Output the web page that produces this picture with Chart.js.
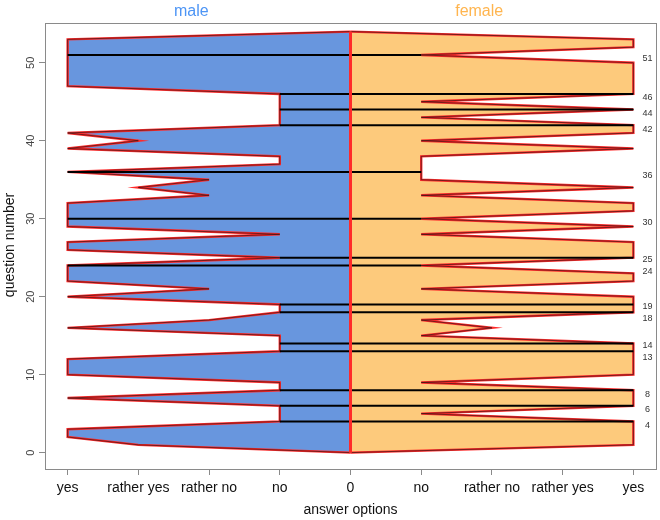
<!DOCTYPE html>
<html>
<head>
<meta charset="utf-8">
<script src="https://cdn.jsdelivr.net/npm/chart.js@4.4.1/dist/chart.umd.min.js"></script>
<style>
  html, body { margin: 0; padding: 0; background: #fff; }
</style>
</head>
<body>
<canvas id="chart" width="660" height="520"></canvas>
<script>
// answers per question (1..53): 1 = no, 2 = rather no, 3 = rather yes, 4 = yes
const questions = Array.from({ length: 53 }, (_, i) => i + 1);
const maleAnswers = [3, 4, 4, 1, 1, 1, 4, 1, 1, 4, 4, 4, 1, 1, 1, 4, 2, 1, 1, 4,
  2, 4, 4, 4, 1, 4, 4, 1, 4, 4, 4, 4, 2, 3, 2, 4, 1, 1, 4, 3,
  4, 1, 1, 1, 1, 1, 4, 4, 4, 4, 4, 4, 4];
const femaleAnswers = [4, 4, 4, 4, 1, 4, 4, 4, 1, 4, 4, 4, 4, 4, 1, 2, 1, 4, 4, 4,
  1, 4, 4, 1, 4, 4, 4, 1, 4, 1, 4, 4, 1, 4, 1, 1, 1, 1, 4, 1,
  4, 4, 1, 4, 1, 4, 4, 4, 4, 4, 1, 4, 4];
// questions with a big disagreement, marked by a black line + label
const markedQuestions = [4, 6, 8, 13, 14, 18, 19, 24, 25, 30, 36, 42, 44, 46, 51];

const xTickValues = [-4, -3, -2, -1, 0, 1, 2, 3, 4];
const xTickLabels = ['yes', 'rather yes', 'rather no', 'no', '0', 'no', 'rather no', 'rather yes', 'yes'];
const yTickValues = [0, 10, 20, 30, 40, 50];

const FONT = '"Liberation Sans", Arial, Helvetica, sans-serif';
const BLUE = '#6896de';
const ORANGE = '#fdca7c';
const RED = '#ff2a2a';
const EDGE_DARK = 'rgba(50,20,20,0.85)';

const topQ = questions.length + 1;

function polygon(values, sign) {
  const pts = [{ x: 0, y: 0 }];
  questions.forEach((q, i) => pts.push({ x: sign * values[i], y: q }));
  pts.push({ x: 0, y: topQ });
  return pts;
}

const malePts = polygon(maleAnswers, -1);
const femalePts = polygon(femaleAnswers, 1);

// listed bottom to top; reversed below since chart.js paints index 0 last
const layers = [
  { data: malePts, backgroundColor: BLUE, borderColor: RED, borderWidth: 2.4, fill: 'shape' },
  { data: malePts, borderColor: EDGE_DARK, borderWidth: 0.8, fill: false },
  { data: femalePts, backgroundColor: ORANGE, borderColor: RED, borderWidth: 2.4, fill: 'shape' },
  { data: femalePts, borderColor: EDGE_DARK, borderWidth: 0.8, fill: false },
];

markedQuestions.forEach((q) => {
  layers.push({
    data: [{ x: -maleAnswers[q - 1], y: q }, { x: femaleAnswers[q - 1], y: q }],
    borderColor: '#000',
    borderWidth: 2,
    fill: false,
  });
});

// red middle line
layers.push({
  data: [{ x: 0, y: 0 }, { x: 0, y: topQ }],
  borderColor: RED,
  borderWidth: 3,
  fill: false,
});

const datasets = layers.slice().reverse();

const decor = {
  id: 'decor',
  afterDraw(chart) {
    const { ctx, chartArea: a, scales: { x, y } } = chart;
    ctx.save();

    // box
    ctx.strokeStyle = '#8a8a8a';
    ctx.lineWidth = 1;
    ctx.strokeRect(a.left + 0.5, a.top + 0.5, a.right - a.left, a.bottom - a.top);

    // rotated y tick labels
    ctx.fillStyle = '#444';
    ctx.font = '11px ' + FONT;
    ctx.textAlign = 'center';
    ctx.textBaseline = 'middle';
    yTickValues.forEach((v) => {
      ctx.save();
      ctx.translate(31, y.getPixelForValue(v));
      ctx.rotate(-Math.PI / 2);
      ctx.fillText(String(v), 0, 0);
      ctx.restore();
    });

    // y title
    ctx.fillStyle = '#111';
    ctx.font = '14px ' + FONT;
    ctx.save();
    ctx.translate(10, 245);
    ctx.rotate(-Math.PI / 2);
    ctx.fillText('question number', 0, 0);
    ctx.restore();

    // x title
    ctx.fillText('answer options', x.getPixelForValue(0), 510);

    // group titles
    ctx.font = '16px ' + FONT;
    ctx.fillStyle = '#4d95f5';
    ctx.fillText('male', x.getPixelForValue(-2.25), 12);
    ctx.fillStyle = '#ffb54f';
    ctx.fillText('female', x.getPixelForValue(1.82), 12);

    // question labels on the right
    ctx.font = '9px ' + FONT;
    ctx.fillStyle = '#333';
    markedQuestions.forEach((q) => {
      const off = (q === 25 || q === 19 || q === 14) ? -2 : (q === 24 || q === 18 || q === 13) ? 2 : 0;
      ctx.fillText(String(q), x.getPixelForValue(4.2), y.getPixelForValue(q) + 4 + off);
    });

    ctx.restore();
  },
};

new Chart(document.getElementById('chart'), {
  type: 'line',
  data: { datasets },
  plugins: [decor],
  options: {
    responsive: false,
    animation: false,
    layout: { padding: { top: 23, right: 4, left: 0, bottom: 0 } },
    elements: { point: { radius: 0 }, line: { tension: 0, borderJoinStyle: 'miter' } },
    plugins: { legend: { display: false }, tooltip: { enabled: false }, filler: { propagate: false } },
    scales: {
      x: {
        type: 'linear',
        min: -4.32,
        max: 4.32,
        afterBuildTicks: (s) => { s.ticks = xTickValues.map((v) => ({ value: v })); },
        afterFit: (s) => { s.height = 51; },
        grid: { drawOnChartArea: false, drawTicks: true, tickLength: 6, color: '#8a8a8a' },
        border: { display: true, color: '#8a8a8a' },
        ticks: {
          color: '#111',
          font: { family: FONT, size: 14 },
          padding: 5,
          maxRotation: 0,
          autoSkip: false,
          callback: (v) => xTickLabels[xTickValues.indexOf(v)],
        },
      },
      y: {
        type: 'linear',
        min: -2.1,
        max: 55.1,
        afterBuildTicks: (s) => { s.ticks = yTickValues.map((v) => ({ value: v })); },
        afterFit: (s) => { s.width = 45; },
        grid: { drawOnChartArea: false, drawTicks: true, tickLength: 6, color: '#8a8a8a' },
        border: { display: true, color: '#8a8a8a' },
        ticks: { display: false },
      },
    },
  },
});
</script>
</body>
</html>
